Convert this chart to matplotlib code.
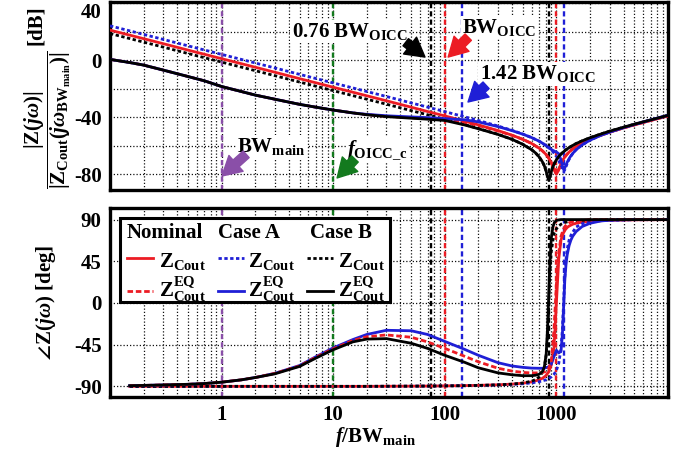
import matplotlib
matplotlib.use('Agg')
import matplotlib.pyplot as plt
from matplotlib.patches import Rectangle
from matplotlib.lines import Line2D
from matplotlib.ticker import LogLocator, NullFormatter
import matplotlib.transforms as mtransforms

plt.rcParams.update({
    'font.family': ['Liberation Serif', 'DejaVu Serif'],
    'font.weight': 'bold',
    'font.size': 15,
    'mathtext.fontset': 'custom',
    'mathtext.rm': 'Liberation Serif:bold',
    'mathtext.bf': 'Liberation Serif:bold',
    'mathtext.it': 'Liberation Serif:italic:bold',
    'mathtext.sf': 'Liberation Serif:bold',
    'axes.unicode_minus': False,
})

# ---------------- data (frequency normalised to BW_main) ----------------
bw_main = 1.0
f_oicc_c = 10.0
bw_oicc = 100.0
oicc_ratios = [0.76, 1.0, 1.42]          # Case B, Nominal, Case A
f_res = [855.0, 1000.0, 1160.0]           # series resonances: Case B, Nominal, Case A

# Nominal
freq_nom = [0.1, 0.15, 0.2, 0.3, 0.5, 0.7, 1, 1.5, 2, 3, 5, 7, 10, 15, 20, 30, 50, 70,
            100, 150, 200, 300, 400, 500, 600, 700, 750, 800, 850, 900, 950,
            1000, 1050, 1100, 1150, 1200, 1250, 1300, 1400, 1500, 1700,
            2000, 2500, 3000, 4000, 5000, 7000, 10000]
nom_zout_db = [21.0, 17.5, 15.0, 11.5, 7.0, 4.1, 1.0, -2.5, -5.0, -8.5, -13.0, -15.9,
               -19.0, -22.5, -25.0, -28.5, -33.0, -36.0,
               -39.1, -42.7, -45.4, -49.4, -52.6, -55.5, -58.4, -61.7,
               -63.6, -65.8, -68.4, -71.8, -76.3,
               -80.0, -76.6, -72.5, -69.6, -67.5, -65.8, -64.4, -62.2, -60.6, -58.1,
               -55.5, -52.6, -50.5, -47.5, -45.4, -42.3, -39.1]
nom_eq_db = [0.5, -1.7, -3.5, -7.0, -11.5, -14.5, -18.5, -22.0, -24.5, -27.4, -31.0, -33.0,
             -35.0, -37.0, -38.2, -39.4, -40.4, -41.0,
             -41.7, -43.6, -45.8, -49.6, -52.7, -55.5, -58.4, -61.7,
             -63.6, -65.8, -68.4, -71.8, -76.3,
             -80.0, -76.6, -72.5, -69.6, -67.5, -65.8, -64.4, -62.2, -60.6, -58.1,
             -55.5, -52.6, -50.5, -47.5, -45.4, -42.3, -39.1]
# phase series start at freq 0.15
nom_zout_deg = [-90, -90, -90, -90, -90, -90, -90, -90, -90, -90, -90, -90, -90, -90,
                -89.9, -89.8, -89.7,
                -89.5, -89.2, -88.9, -88.3, -87.6, -86.6, -85.2, -83.0,
                -81.3, -78.8, -74.7, -67.1, -49.1,
                0.0, 47.6, 68.0, 75.0, 79.0, 81.5, 83.0, 85.0, 86.0, 87.3,
                88.2, 88.8, 89.2, 89.5, 89.7, 89.8, 89.9]
nom_eq_deg = [-89.3, -89.0, -88.5, -87.8, -87.0, -85.5, -83.0, -80.5, -76.0, -68.0, -58.5,
              -49.5, -40.5, -36.5, -34.5, -37.0, -42.0,
              -49.0, -57.5, -63.5, -70.5, -73.5, -75.0, -75.5, -75.5,
              -75.0, -74.0, -71.0, -63.0, -30.0,
              20.0, 55.0, 72.0, 79.0, 83.0, 85.0, 86.5, 88.0, 88.8, 89.5,
              89.8, 90.0, 90.0, 90.0, 90.0, 90.0, 90.0]

# Case A
freq_a = [0.1, 0.15, 0.2, 0.3, 0.5, 0.7, 1, 1.5, 2, 3, 5, 7, 10, 15, 20, 30, 50, 70,
          100, 150, 200, 300, 400, 500, 600, 700, 750, 800, 850, 900, 950,
          1000, 1050, 1100, 1130, 1160, 1190, 1220, 1250, 1300, 1350, 1400, 1500, 1700,
          2000, 2500, 3000, 4000, 5000, 7000, 10000]
a_zout_db = [24.0, 20.5, 18.0, 14.5, 10.0, 7.1, 4.0, 0.5, -2.0, -5.5, -10.0, -12.9,
             -16.0, -19.5, -22.0, -25.5, -30.0, -32.9,
             -36.1, -39.7, -42.3, -46.2, -49.2, -51.8, -54.3, -56.8,
             -58.2, -59.7, -61.2, -63.0, -65.0,
             -67.4, -70.4, -74.3, -76.8, -78.0, -76.8, -74.6, -72.4, -69.5, -67.3, -65.5, -62.8, -59.4,
             -56.1, -52.7, -50.5, -47.3, -45.1, -41.9, -38.7]
a_eq_db = [0.5, -1.7, -3.5, -7.0, -11.5, -14.5, -18.5, -22.0, -24.5, -27.4, -31.0, -33.0,
           -35.0, -37.0, -38.0, -39.0, -39.8, -40.3,
           -41.0, -41.8, -43.3, -46.6, -49.4, -51.9, -54.3, -56.8,
           -58.2, -59.7, -61.2, -62.6, -63.6,
           -64.4, -65.6, -70.0, -74.0, -76.5, -75.5, -73.5, -71.5, -69.0, -67.0, -65.4, -62.8, -59.4,
           -56.1, -52.7, -50.5, -47.3, -45.1, -41.9, -38.7]
a_zout_deg = [-90, -90, -90, -90, -90, -90, -90, -90, -90, -90, -90, -90, -90, -90,
              -89.9, -89.8, -89.7,
              -89.5, -89.3, -89.1, -88.5, -87.9, -87.2, -86.3, -85.0,
              -84.1, -83.1, -81.7, -79.8, -77.1,
              -72.8, -65.2, -49.0, -29.6, 0.0, 29.0, 47.5, 58.3, 68.0, 73.1, 76.3, 82.0, 85.5,
              87.5, 88.8, 89.3, 89.6, 89.8, 89.9, 90.0]
a_eq_deg = [-89.3, -89.0, -88.5, -87.8, -87.0, -85.5, -83.0, -80.5, -76.0, -67.5, -58.0,
            -48.5, -39.5, -34.0, -29.5, -30.0, -34.0,
            -41.5, -50.0, -56.5, -64.5, -68.0, -69.5, -70.3, -70.5,
            -70.5, -70.0, -69.0, -66.0, -58.0,
            -51.0, -54.0, -52.0, -35.0, -5.0, 25.0, 42.0, 52.0, 62.0, 68.0, 72.0, 77.0, 82.5,
            86.0, 88.5, 89.3, 89.8, 90.0, 90.0, 90.0]

# Case B
freq_b = [0.1, 0.15, 0.2, 0.3, 0.5, 0.7, 1, 1.5, 2, 3, 5, 7, 10, 15, 20, 30, 50, 70,
          100, 150, 200, 300, 400, 500, 600,
          650, 700, 750, 780, 810, 835, 855, 875, 900, 930, 960,
          1000, 1050, 1100, 1200, 1300, 1400, 1500, 1700,
          2000, 2500, 3000, 4000, 5000, 7000, 10000]
b_zout_db = [18.6, 15.1, 12.6, 9.1, 4.6, 1.7, -1.4, -4.9, -7.4, -10.9, -15.4, -18.3,
             -21.4, -24.9, -27.4, -30.9, -35.4, -38.3,
             -41.5, -45.2, -47.9, -52.0, -55.5, -59.0, -62.8,
             -65.0, -67.8, -71.3, -74.1, -77.9, -82.0, -84.0, -82.0, -78.1, -74.8, -72.3,
             -69.8, -67.5, -65.8, -63.2, -61.3, -59.8, -58.5, -56.6,
             -54.4, -51.8, -49.8, -47.0, -44.9, -41.9, -38.7]
b_eq_db = [0.5, -1.7, -3.5, -7.0, -11.5, -14.5, -18.5, -22.0, -24.5, -27.4, -31.0, -33.0,
           -35.0, -37.0, -38.3, -39.6, -40.7, -41.4,
           -42.3, -45.4, -48.1, -52.1, -55.5, -59.0, -62.8,
           -65.0, -67.8, -71.3, -74.1, -77.9, -82.0, -84.0, -82.0, -78.1, -74.8, -72.3,
           -69.8, -67.5, -65.8, -63.2, -61.3, -59.8, -58.5, -56.6,
           -54.4, -51.8, -49.8, -47.0, -44.9, -41.9, -38.7]
b_zout_deg = [-90, -90, -90, -90, -90, -90, -90, -90, -90, -90, -90, -90, -90, -90,
              -89.9, -89.8, -89.7,
              -89.5, -89.3, -89.0, -88.4, -87.6, -86.4, -84.4,
              -82.7, -80.0, -74.9, -69.0, -56.3, -33.8, 0.0, 33.2, 55.4, 67.2, 76.0,
              80.0, 83.0, 85.0, 87.0, 88.0, 88.5, 89.0, 89.3,
              89.5, 89.7, 89.8, 89.9, 90.0, 90.0, 90.0]
b_eq_deg = [-89.3, -89.0, -88.5, -87.8, -87.0, -85.5, -83.0, -80.5, -76.5, -68.5, -59.5,
            -50.5, -42.0, -39.0, -38.5, -43.5, -49.0,
            -56.5, -64.0, -70.0, -75.5, -77.5, -78.5, -78.5,
            -78.0, -77.0, -74.0, -69.0, -55.0, -25.0, 10.0, 45.0, 70.0, 82.0, 87.0,
            89.0, 89.7, 90.0, 90.0, 90.0, 90.0, 90.0, 90.0,
            90.0, 90.0, 90.0, 90.0, 90.0, 90.0, 90.0]

# ---------------- styles ----------------
RED = '#ec1c24'
BLUE = '#1f1fd6'
BLACK = '#000000'
PURPLE = '#8a4fa8'
GREEN = '#137a1e'
DASH = (0, (2.0, 1.0))
DOT = (0, (1.2, 0.9))
VDASH = (0, (2.2, 1.3))
LW = 2.0

fig = plt.figure(figsize=(6.88, 4.55), dpi=100)
W, H = 688.0, 455.0
ax_mag = fig.add_axes([110 / W, 1 - 190 / H, 558 / W, 188 / H])
ax_ph = fig.add_axes([110 / W, 1 - 397 / H, 558 / W, 189 / H])

grid_kw = dict(color='#111111', linestyle=(0, (1, 1.6)), linewidth=0.9)
for ax in (ax_mag, ax_ph):
    ax.set_xscale('log')
    ax.set_xlim(0.1, 1e4)
    ax.set_xticks([0.1, 1, 10, 100, 1000, 10000])
    ax.xaxis.set_minor_locator(LogLocator(base=10, subs=range(2, 10), numticks=100))
    ax.xaxis.set_minor_formatter(NullFormatter())
    ax.tick_params(which='both', length=0, pad=6, labelsize=15)
    ax.grid(True, which='both', axis='x', **grid_kw)
    for sp in ax.spines.values():
        sp.set_linewidth(2.4)
    ax.set_axisbelow(True)

# ---- magnitude ----
ax_mag.set_ylim(-91, 40.7)
ax_mag.set_yticks([-80, -40, 0, 40], labels=['-80', '-40', '0', ''])
ax_mag.set_yticks([-60, -20, 20], minor=True)
ax_mag.grid(True, which='both', axis='y', **grid_kw)
ax_mag.set_xticklabels([])
ax_mag.text(-0.016, 40, '40', transform=mtransforms.blended_transform_factory(ax_mag.transAxes, ax_mag.transData),
            ha='right', va='top', fontsize=15)

# ---- phase ----
ax_ph.set_ylim(-101.5, 102.5)
ax_ph.set_yticks([-90, -45, 0, 45, 90])
ax_ph.grid(True, which='major', axis='y', **grid_kw)
ax_ph.set_xticklabels(['', '1', '10', '100', '1000', ''])

# vertical markers
case_cols = [BLACK, RED, BLUE]
for ax in (ax_mag, ax_ph):
    ax.axvline(bw_main, color=PURPLE, ls=VDASH, lw=1.7, zorder=2)
    ax.axvline(f_oicc_c, color=GREEN, ls=VDASH, lw=1.7, zorder=2)
    for r, c in zip(oicc_ratios, case_cols):
        ax.axvline(bw_oicc * r, color=c, ls=VDASH, lw=1.7, zorder=2)
    for fr, c in zip(f_res, case_cols):
        ax.axvline(fr, color=c, ls=VDASH, lw=1.7, zorder=2)

# magnitude curves
ax_mag.plot(freq_b, b_zout_db, color=BLACK, ls=DOT, lw=LW, zorder=3)
ax_mag.plot(freq_nom, nom_zout_db, color=RED, ls='-', lw=LW, zorder=3)
ax_mag.plot(freq_a, a_zout_db, color=BLUE, ls=DOT, lw=LW, zorder=3)
ax_mag.plot(freq_nom, nom_eq_db, color=RED, ls=DASH, lw=LW, zorder=3)
ax_mag.plot(freq_a, a_eq_db, color=BLUE, ls='-', lw=LW, zorder=3)
ax_mag.plot(freq_b, b_eq_db, color=BLACK, ls='-', lw=LW, zorder=3)

# phase curves
ax_ph.plot(freq_nom[1:], nom_zout_deg, color=RED, ls='-', lw=LW, zorder=3)
ax_ph.plot(freq_a[1:], a_zout_deg, color=BLUE, ls=DOT, lw=LW, zorder=3)
ax_ph.plot(freq_b[1:], b_zout_deg, color=BLACK, ls=DOT, lw=LW, zorder=3)
ax_ph.plot(freq_a[1:], a_eq_deg, color=BLUE, ls='-', lw=LW, zorder=3)
ax_ph.plot(freq_nom[1:], nom_eq_deg, color=RED, ls=DASH, lw=LW, zorder=3)
ax_ph.plot(freq_b[1:], b_eq_deg, color=BLACK, ls='-', lw=LW, zorder=3)

# annotations on the magnitude plot
box = dict(facecolor='white', edgecolor='none', pad=1.0)
ann = [
    (0.326, 0.814, r'0.76 BW$_{\mathrm{OICC}}$'),
    (0.631, 0.835, r'BW$_{\mathrm{OICC}}$'),
    (0.663, 0.590, r'1.42 BW$_{\mathrm{OICC}}$'),
    (0.2276, 0.202, r'BW$_{\mathrm{main}}$'),
    (0.425, 0.186, r'$f_{\mathrm{OICC\_c}}$'),
]
for x, y, s in ann:
    ax_mag.text(x, y, s, transform=ax_mag.transAxes, ha='left', va='baseline',
                fontsize=15, bbox=box, zorder=5)

arrow_style = 'simple,head_width=0.9,head_length=0.8,tail_width=0.38'
arrows = [
    ((0.244, 0.190), (0.2007, 0.0745), PURPLE),
    ((0.439, 0.165), (0.407, 0.064), GREEN),
    ((0.530, 0.786), (0.5645, 0.707), BLACK),
    ((0.642, 0.813), (0.606, 0.707), RED),
    ((0.674, 0.557), (0.6416, 0.468), BLUE),
]
for tail, head, c in arrows:
    ax_mag.annotate('', xy=head, xytext=tail, xycoords='axes fraction', textcoords='axes fraction',
                    arrowprops=dict(arrowstyle=arrow_style, color=c, mutation_scale=17,
                                    shrinkA=0, shrinkB=0), zorder=6)

# legend table on the phase plot
T = ax_ph.transAxes
ax_ph.add_patch(Rectangle((0.018, 0.503), 0.484, 0.444, transform=T, facecolor='white',
                          edgecolor='black', lw=2.2, zorder=10, clip_on=False))
headers = [(0.0305, 'Nominal'), (0.1935, 'Case A'), (0.3584, 'Case B')]
for x, s in headers:
    ax_ph.text(x, 0.841, s, transform=T, ha='left', va='baseline', fontsize=15, zorder=11)
rows = [
    [(0.0305, RED, '-'), (0.1935, BLUE, DOT), (0.353, BLACK, DOT)],
    [(0.0305, RED, DASH), (0.1935, BLUE, '-'), (0.353, BLACK, '-')],
]
row_line_y = [0.737, 0.562]
row_text_y = [0.688, 0.529]
row_text = [r'$\mathrm{Z}_{\mathrm{Cout}}$', r'$\mathrm{Z}_{\mathrm{Cout}}^{\mathrm{EQ}}$']
text_x = [0.088, 0.247, 0.409]
for ri, row in enumerate(rows):
    for ci, (x0, c, ls) in enumerate(row):
        ax_ph.add_line(Line2D([x0, x0 + 0.047], [row_line_y[ri]] * 2, transform=T, color=c,
                              ls=ls, lw=LW, zorder=11, clip_on=False))
        ax_ph.text(text_x[ci], row_text_y[ri], row_text[ri], transform=T, ha='left',
                   va='baseline', fontsize=15, zorder=11)

# axis labels
fig.text(48 / W, 1 - 120 / H,
         r'$\dfrac{|\mathrm{Z}(j\omega)|}{|\mathrm{Z}_{\mathrm{Cout}}(j\omega_{\mathrm{BW_{main}}})|}$',
         rotation=90, ha='center', va='center', fontsize=15)
fig.text(36 / W, 1 - 25 / H, '[dB]', rotation=90, ha='center', va='center', fontsize=15)
fig.text(46 / W, 1 - 303 / H, r'$\angle\mathrm{Z}(j\omega)$ [deg]', rotation=90,
         ha='center', va='center', fontsize=15)
fig.text(376 / W, 1 - 437 / H, r'$f$/BW$_{\mathrm{main}}$', ha='center', va='center', fontsize=15)

fig.savefig('out.png', dpi=100)
